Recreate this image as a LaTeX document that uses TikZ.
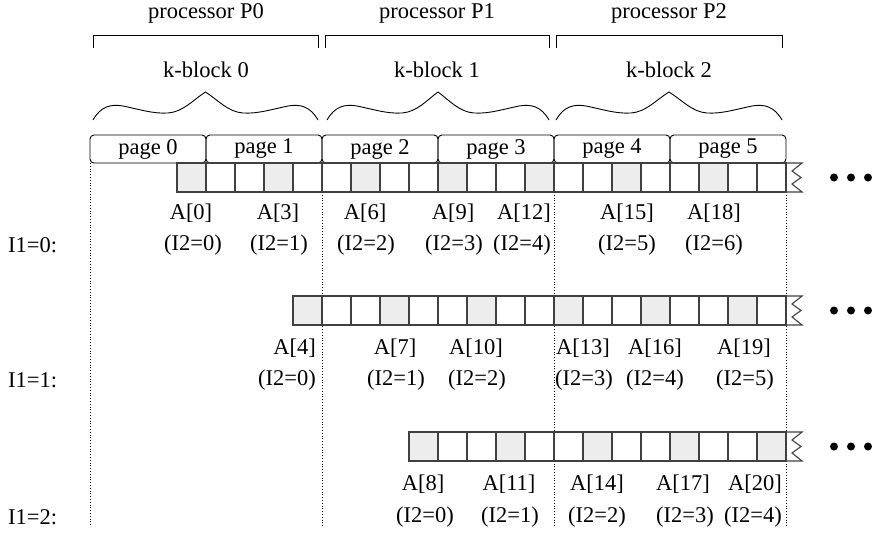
\documentclass[tikz,border=0pt]{standalone}
\usepackage{fontspec}
\setmainfont{Liberation Serif}
\begin{document}
\begin{tikzpicture}[x=1pt,y=-1pt,
  lbl/.style={font=\fontsize{22.5}{27}\selectfont, inner sep=0pt},
  cellline/.style={draw=black!75, line width=1.1pt},
  shadecell/.style={fill=black!7},
  guide/.style={dotted, line width=0.8pt},
  thinline/.style={line width=0.9pt},
  pagebox/.style={draw, thinline, rounded corners=4pt, minimum width=116pt, minimum height=28pt, inner sep=0pt, lbl}]
\useasboundingbox (0,0) rectangle (875,535);

% processor headers and brackets
\node[lbl] (p0) at (206,13) {processor P0};
\node[lbl] (p1) at (437,13) {processor P1};
\node[lbl] (p2) at (669,13) {processor P2};
\foreach \a/\b in {93/318, 325/549, 556/782}{
  \draw[thinline] (\a,48) -- (\a,35) -- (\b,35) -- (\b,48);
}

% k-block labels and braces
\node[lbl] (k0) at (206,70) {k-block 0};
\node[lbl] (k1) at (437,70) {k-block 1};
\node[lbl] (k2) at (669,70) {k-block 2};
\foreach \a/\b in {93/318, 327/549, 556/782}{
  \pgfmathsetmacro\m{(\a+\b)/2}
  \draw[thinline] (\a,120) .. controls (\a+8,106) and (\a+18,104) .. (\a+30,106)
     .. controls (\a+45,109) and (\a+60,114) .. (\a+75,113)
     .. controls (\a+90,112) and (\a+100,100) .. (\m,92)
     .. controls (\b-100,100) and (\b-90,112) .. (\b-75,113)
     .. controls (\b-60,114) and (\b-45,109) .. (\b-30,106)
     .. controls (\b-18,104) and (\b-8,106) .. (\b,120);
}

% dotted guides
\draw[guide] (90,163) -- (90,527);
\foreach \x in {322,554,786}{ \draw[guide] (\x,192) -- (\x,527); }

% pages
\foreach \k in {0,...,5}{
  \node[pagebox] (page\k) at (148+116*\k,149) {page \k};
}

% array rows
\foreach \T/\s/\shl in {163/0/{0,3,...,18}, 296/4/{4,7,...,19}, 432/8/{8,11,...,20}}{
  \foreach \i in {\s,...,20}{
    \draw[cellline, fill=white] (177+29*\i,\T) rectangle ++(29,29);
  }
  \foreach \i in \shl{
    \draw[cellline, shadecell] (177+29*\i,\T) rectangle ++(29,29);
  }
  \draw[cellline, line join=miter] (786,\T) -- (802,\T) -- (792,\T+8) -- (801,\T+14.5) -- (792,\T+21) -- (802,\T+29) -- (786,\T+29);
  \foreach \d in {834,851,868}{ \fill (\d,\T+14.5) circle (4pt); }
}

% row 1 labels
\node[lbl] (a0) at (191,213) {A[0]};
\node[lbl] (a3) at (278,213) {A[3]};
\node[lbl] (a6) at (365,213) {A[6]};
\node[lbl] (a9) at (453,213) {A[9]};
\node[lbl, anchor=east] (a12) at (551,213) {A[12]};
\node[lbl] (a15) at (627,213) {A[15]};
\node[lbl] (a18) at (714,213) {A[18]};
\node[lbl] (r1i0) at (193,245) {(I2=0)};
\node[lbl] (r1i1) at (279,245) {(I2=1)};
\node[lbl] (r1i2) at (366,245) {(I2=2)};
\node[lbl] (r1i3) at (454,245) {(I2=3)};
\node[lbl, anchor=east] (r1i4) at (551,245) {(I2=4)};
\node[lbl] (r1i5) at (627,245) {(I2=5)};
\node[lbl] (r1i6) at (714,245) {(I2=6)};
\node[lbl, anchor=west] (l0) at (8,245) {I1=0:};

% row 2 labels
\node[lbl, anchor=east] (a4) at (316,348) {A[4]};
\node[lbl] (a7) at (395,348) {A[7]};
\node[lbl] (a10) at (476,348) {A[10]};
\node[lbl, anchor=west] (a13) at (556,348) {A[13]};
\node[lbl] (a16) at (655,348) {A[16]};
\node[lbl] (a19) at (744,348) {A[19]};
\node[lbl, anchor=east] (r2i0) at (316,380) {(I2=0)};
\node[lbl] (r2i1) at (396,380) {(I2=1)};
\node[lbl] (r2i2) at (477,380) {(I2=2)};
\node[lbl, anchor=west] (r2i3) at (555,380) {(I2=3)};
\node[lbl] (r2i4) at (655,380) {(I2=4)};
\node[lbl] (r2i5) at (745,380) {(I2=5)};
\node[lbl, anchor=west] (l1) at (8,380) {I1=1:};

% row 3 labels
\node[lbl] (a8) at (423,484) {A[8]};
\node[lbl] (a11) at (509,484) {A[11]};
\node[lbl] (a14) at (597,484) {A[14]};
\node[lbl] (a17) at (683,484) {A[17]};
\node[lbl, anchor=east] (a20) at (782,484) {A[20]};
\node[lbl] (r3i0) at (425,517) {(I2=0)};
\node[lbl] (r3i1) at (510,517) {(I2=1)};
\node[lbl] (r3i2) at (597,517) {(I2=2)};
\node[lbl] (r3i3) at (685,517) {(I2=3)};
\node[lbl, anchor=east] (r3i4) at (782,517) {(I2=4)};
\node[lbl, anchor=west] (l2) at (8,517) {I1=2:};
\end{tikzpicture}
\end{document}
